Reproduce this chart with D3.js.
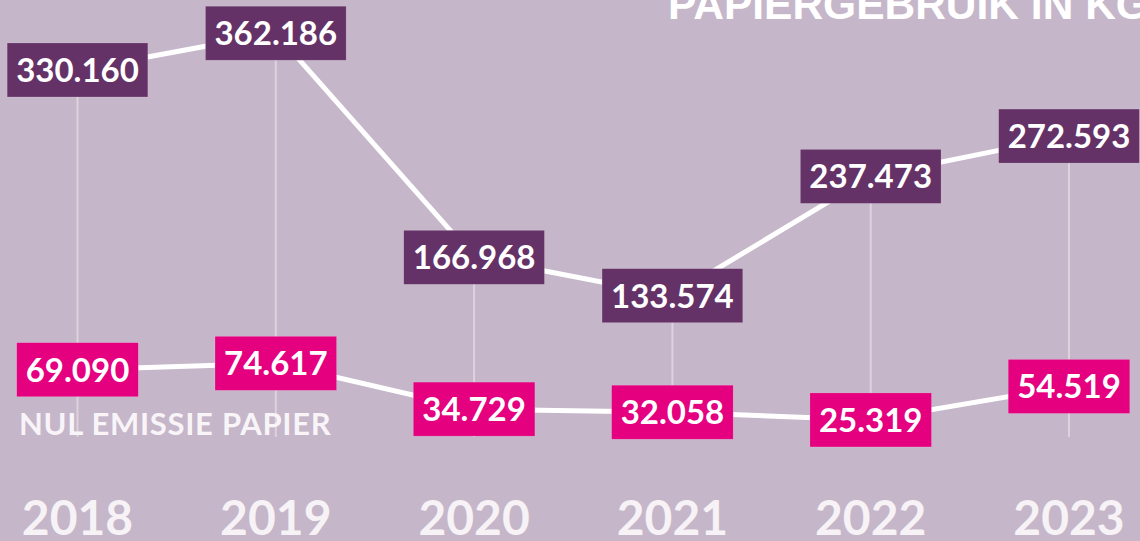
<!DOCTYPE html>
<html>
<head>
<meta charset="utf-8">
<script src="https://cdn.jsdelivr.net/npm/d3@7"></script>
<style>
  html, body { margin: 0; padding: 0; background: #c5b6c9; overflow: hidden; }
  svg { display: block; }
</style>
</head>
<body>
<svg id="chart"></svg>
<script>
// Data
const years = [2018, 2019, 2020, 2021, 2022, 2023];
const totalKg = [330160, 362186, 166968, 133574, 237473, 272593];
const nulEmissieKg = [69090, 74617, 34729, 32058, 25319, 54519];
const titleText = "PAPIERGEBRUIK IN KG";
const seriesLabel = "NUL EMISSIE PAPIER";

const svgWidth = 1140;
const svgHeight = 541;

const svg = d3.select("#chart")
    .attr("width", svgWidth)
    .attr("height", svgHeight);

svg.append("rect")
    .attr("width", svgWidth)
    .attr("height", svgHeight)
    .attr("fill", "#c5b6c9");

// Dutch number format: 330.160
const nl = d3.formatLocale({ decimal: ",", thousands: ".", grouping: [3], currency: ["€", ""] });
const fmt = nl.format(",d");

// Scales
const xScale = d3.scalePoint()
    .domain(years)
    .range([77.5, 1069]);

const yScale = d3.scaleLinear()
    .domain([0, 400000])
    .range([449, -10.2]);

const font = "Lato, 'Open Sans', sans-serif";

// Title (cut off at the top right like the original)
svg.append("text")
    .attr("x", 668)
    .attr("y", 19)
    .attr("font-family", "'Liberation Sans', Arial, sans-serif")
    .attr("font-weight", 700)
    .attr("font-size", 42.5)
    .attr("fill", "#ffffff")
    .text(titleText);

// Faint drop lines under every year
svg.append("g")
    .selectAll("line")
    .data(years)
    .enter()
    .append("line")
    .attr("x1", d => xScale(d))
    .attr("x2", d => xScale(d))
    .attr("y1", (d, i) => yScale(totalKg[i]))
    .attr("y2", yScale(10500))
    .attr("stroke", "#ffffff")
    .attr("stroke-opacity", 0.4)
    .attr("stroke-width", 2);

// Connecting lines
const line = d3.line()
    .x(d => xScale(d.year))
    .y(d => yScale(d.value));

const series = [
    { values: totalKg, fill: "#653268" },
    { values: nulEmissieKg, fill: "#e4007f" }
];

series.forEach(s => {
    const pts = years.map((y, i) => ({ year: y, value: s.values[i] }));
    svg.append("path")
        .datum(pts)
        .attr("d", line)
        .attr("fill", "none")
        .attr("stroke", "#ffffff")
        .attr("stroke-width", 5);
});

// Value boxes
series.forEach(s => {
    const pts = years.map((y, i) => ({ year: y, value: s.values[i] }));
    const g = svg.append("g")
        .selectAll("g")
        .data(pts)
        .enter()
        .append("g")
        .attr("transform", d => `translate(${xScale(d.year)},${yScale(d.value)})`);

    const rects = g.append("rect")
        .attr("fill", s.fill)
        .attr("stroke", "rgba(255,255,255,0.25)")
        .attr("stroke-width", 0.6);

    const texts = g.append("text")
        .attr("text-anchor", "middle")
        .attr("dy", "0.36em")
        .attr("font-family", font)
        .attr("font-weight", 700)
        .attr("font-size", 33)
        .attr("fill", "#ffffff")
        .text(d => fmt(d.value));

    texts.each(function(d, i) {
        const w = this.getComputedTextLength() + 18;
        d3.select(rects.nodes()[i])
            .attr("x", -w / 2)
            .attr("y", -27)
            .attr("width", w)
            .attr("height", 54);
    });
});

// Series label
svg.append("text")
    .attr("x", 19)
    .attr("y", 435)
    .attr("font-family", font)
    .attr("font-weight", 700)
    .attr("font-size", 31)
    .attr("letter-spacing", 0.7)
    .attr("fill", "#f8f4f8")
    .text(seriesLabel);

// Year labels
svg.append("g")
    .selectAll("text")
    .data(years)
    .enter()
    .append("text")
    .attr("x", d => xScale(d))
    .attr("y", 535)
    .attr("text-anchor", "middle")
    .attr("font-family", font)
    .attr("font-weight", 700)
    .attr("font-size", 48)
    .attr("fill", "#f6f2f6")
    .text(d => d);
</script>
</body>
</html>
